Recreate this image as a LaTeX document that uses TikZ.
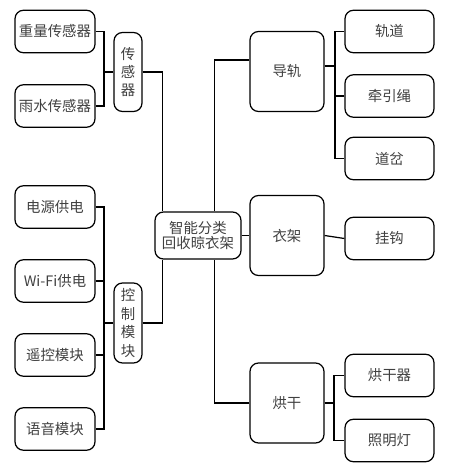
\documentclass[tikz,border=0pt]{standalone}
\usepackage{fontspec}
\setmainfont{Noto Sans CJK SC}
\usetikzlibrary{calc}
\begin{document}
\begin{tikzpicture}[x=0.02cm, y=-0.02cm, line width=0.7pt]
        \tikzstyle{box} = [draw, rounded corners=0.17cm, align=center, inner sep=0pt, text=black!75, font=\fontsize{8.2}{10.5}\selectfont]
        \tikzstyle{leaf} = [box, minimum width=1.6cm, minimum height=0.85cm]
        \tikzstyle{tall} = [box, minimum width=0.56cm, minimum height=1.58cm]
        \tikzstyle{mid} = [box, minimum width=1.48cm, minimum height=1.6cm]
        \useasboundingbox (0,0) rectangle (450,468);
        % left side
        \node[leaf] (w1) at (55, 31.5) {重量传感器};
        \node[leaf] (w2) at (55, 106) {雨水传感器};
        \node[tall] (s) at (128, 72) {传\\感\\器};
        \node[leaf] (p1) at (55, 207) {电源供电};
        \node[leaf] (p2) at (55, 281) {Wi-Fi供电};
        \node[leaf] (p3) at (55, 355) {遥控模块};
        \node[leaf] (p4) at (55, 429) {语音模块};
        \node[tall, minimum height=1.6cm] (k) at (128, 323) {控\\制\\模\\块};
        % centre
        \node[box, minimum width=1.72cm, minimum height=0.94cm, font=\fontsize{8.2}{8.6}\selectfont] (c) at (198, 235.5) {智能分类\\回收晾衣架};
        % right side
        \node[mid] (d) at (287, 71.5) {导轨};
        \node[mid] (y) at (287, 235.5) {衣架};
        \node[mid] (h) at (287, 403) {烘干};
        \node[leaf, minimum width=1.78cm] (r1) at (389.5, 31.5) {轨道};
        \node[leaf, minimum width=1.78cm] (r2) at (389.5, 96) {牵引绳};
        \node[leaf, minimum width=1.78cm] (r3) at (389.5, 158.5) {道岔};
        \node[leaf, minimum width=1.78cm] (r4) at (389.5, 238.5) {挂钩};
        \node[leaf, minimum width=1.78cm] (r5) at (389.5, 375.5) {烘干器};
        \node[leaf, minimum width=1.78cm] (r6) at (389.5, 440.5) {照明灯};
        \coordinate (sb) at (104, 72);
        \coordinate (kb) at (104, 323);
        \coordinate (db) at (335, 66);
        \coordinate (hb) at (334, 403);
        \draw (w1.east) -| (sb) |- (w2.east);
        \draw (sb) -- (s.west);
        \draw (p1.east) -| (kb) |- (p4.east);
        \draw (p2.east) -- (p2.east -| kb);
        \draw (p3.east) -- (p3.east -| kb);
        \draw (kb) -- (k.west);
        \draw (s.east) -| ($(c.north west)+(8,0)$);
        \draw (k.east) -| ($(c.south west)+(8,0)$);
        \draw ($(d.west)+(0,-11.5)$) -| ($(c.north west)+(60,0)$);
        \draw (h.west) -| ($(c.south west)+(60,0)$);
        \draw (c.east) -- (y.west);
        \draw (d.east |- db) -- (db);
        \draw (r1.west) -| (db) |- (r3.west);
        \draw (r2.west) -- (r2.west -| db);
        \draw (y.east) -- (r4.west);
        \draw (h.east) -- (hb);
        \draw (r5.west) -| (hb) |- (r6.west);
      \end{tikzpicture}
\end{document}
